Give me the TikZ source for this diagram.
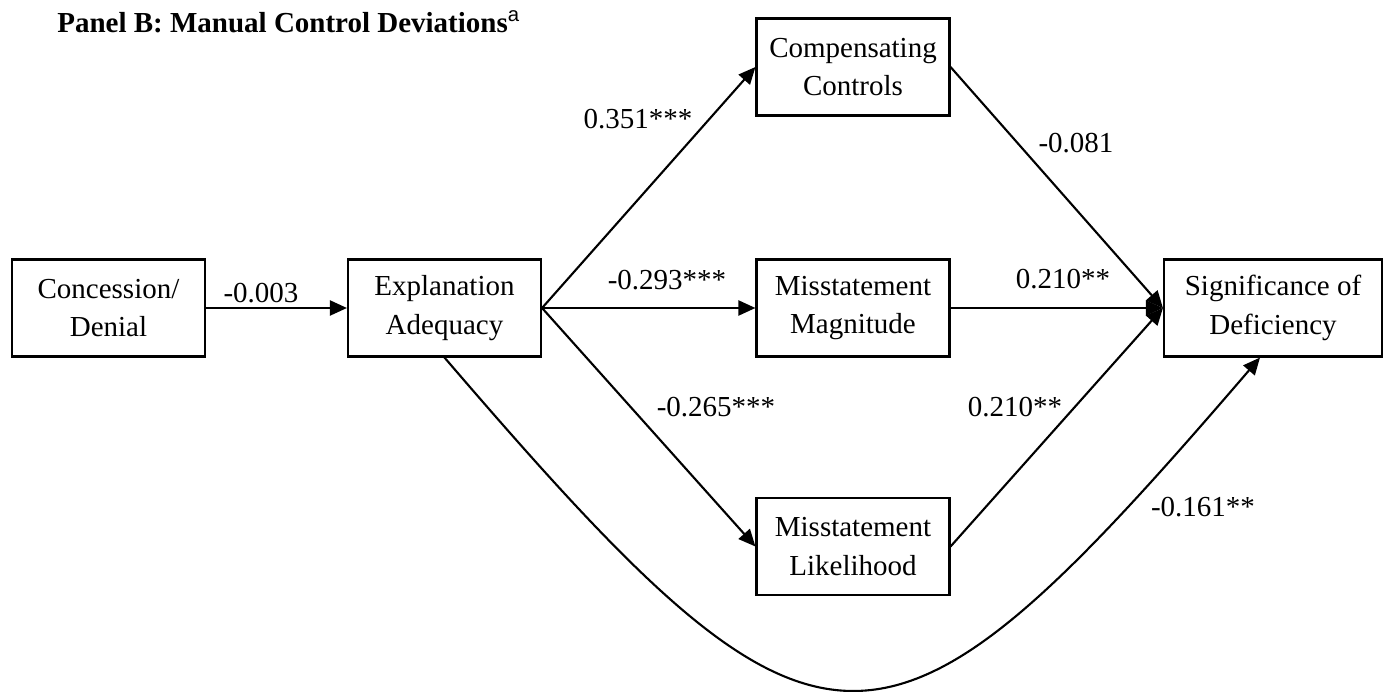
\documentclass[tikz,border=0pt]{standalone}
\usepackage{fontspec}
\setmainfont{Liberation Serif}
\setsansfont{Liberation Sans}
\usepackage{tikz}
\usetikzlibrary{arrows.meta,positioning,calc}

\begin{document}
\begin{tikzpicture}[
  box/.style={draw,line width=1.2pt,minimum width=3.86cm,minimum height=1.94cm,
    align=center,inner sep=0pt,font=\fontsize{16.5}{22}\selectfont},
  arr/.style={line width=1.2pt,-{Triangle[length=0.34cm,width=0.3cm]}},
  lbl/.style={font=\fontsize{16.5}{22}\selectfont,inner sep=0pt}
]
  \useasboundingbox (0,0) rectangle (27.88,13.82);
  % Title
  \node[anchor=base west,inner sep=0pt,font=\fontsize{16.5}{22}\selectfont\bfseries]
    (title) at (1.14,13.16) {Panel B: Manual Control Deviations\textsuperscript{\sffamily\mdseries a}};
  % Boxes
  \node[box] (conc) at (2.17,7.66) {Concession/\\Denial};
  \node[box] (expl) at (8.89,7.66) {Explanation\\Adequacy};
  \node[box] (comp) at (17.06,12.48) {Compensating\\Controls};
  \node[box] (mag) at (17.06,7.66) {Misstatement\\Magnitude};
  \node[box] (lik) at (17.06,2.89) {Misstatement\\Likelihood};
  \node[box,minimum width=4.36cm] (sig) at (25.46,7.66) {Significance of\\Deficiency};
  % Paths
  \draw[arr] (conc.east) -- (expl.west);
  \draw[arr] (expl.east) -- (comp.west);
  \draw[arr] (expl.east) -- (mag.west);
  \draw[arr] (expl.east) -- (lik.west);
  \draw[arr] (comp.east) -- (sig.west);
  \draw[arr] (mag.east) -- (sig.west);
  \draw[arr] (lik.east) -- (sig.west);
  \draw[arr] (expl.south) .. controls +(7.6,-8.85) and +(-7.6,-8.85) .. ([xshift=-0.26cm]sig.south);
  % Coefficients
  \node[lbl] (c1) at (5.22,7.96) {-0.003};
  \node[lbl] (c2) at (12.76,11.44) {0.351***};
  \node[lbl] (c3) at (13.34,8.22) {-0.293***};
  \node[lbl] (c4) at (14.32,5.68) {-0.265***};
  \node[lbl] (c5) at (21.52,10.96) {-0.081};
  \node[lbl] (c6) at (21.26,8.24) {0.210**};
  \node[lbl] (c7) at (20.30,5.68) {0.210**};
  \node[lbl] (c8) at (24.06,3.68) {-0.161**};
\end{tikzpicture}
\end{document}
